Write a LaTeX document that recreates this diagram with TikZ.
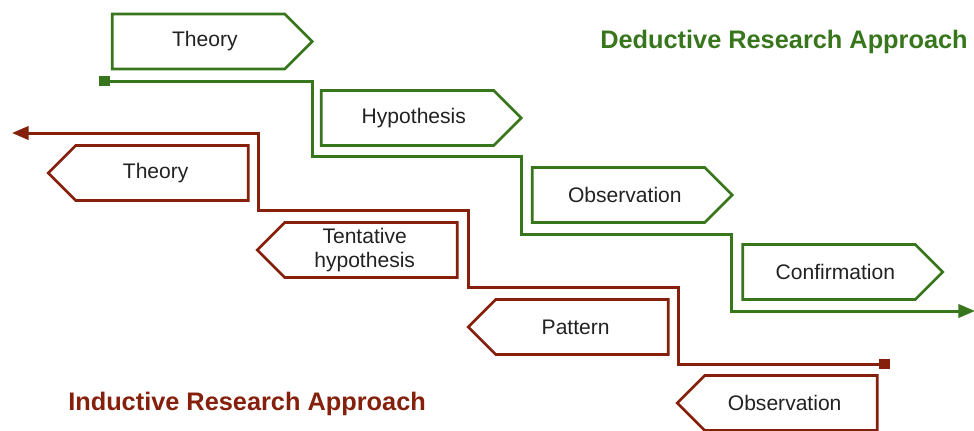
\documentclass[tikz,border=0pt]{standalone}
\usepackage{fontspec}
\setmainfont{Liberation Sans}
\usetikzlibrary{shapes.symbols,arrows.meta}
\definecolor{dedgreen}{HTML}{38761D}
\definecolor{indred}{HTML}{85200C}
\definecolor{boxtext}{HTML}{222222}

\begin{document}
\begin{tikzpicture}[x=0.75pt,y=-0.75pt,
        box/.style = {signal, line width=2pt, fill=white, text=boxtext,
                      minimum width=150pt, minimum height=41.25pt, inner sep=0pt,
                      signal pointer angle=90,
                      font=\fontsize{15.8}{18}\selectfont},
        dedbox/.style = {box, draw=dedgreen, signal to=east,
                         execute at begin node={\hspace*{9.5pt}}},
        indbox/.style = {box, draw=indred, signal to=west,
                         execute at end node={\hspace*{9.5pt}}},
        stair/.style = {line width=2.25pt,
                        arrows={Square[length=8pt,width=8pt]-Triangle[length=12.5pt,width=10pt]}},
        title/.style = {font=\fontsize{19}{22}\selectfont\bfseries, inner sep=0pt}]
    \useasboundingbox (0,0) rectangle (974,430);

    % deductive boxes
    \node[dedbox] (dtheory) at (198.5,41.5) {Theory};
    \node[dedbox] (dhypo)   at (407.5,118)  {Hypothesis};
    \node[dedbox] (dobs)    at (618.5,195)  {Observation};
    \node[dedbox] (dconf)   at (829,272)    {Confirmation};

    % inductive boxes
    \node[indbox] (itheory)  at (162,173) {Theory};
    \node[indbox,align=center,execute at end node={}] (itent) at (371,250) {Tentative\\hypothesis};
    \node[indbox] (ipattern) at (582,327) {Pattern};
    \node[indbox] (iobs)     at (791,403) {Observation};

    \coordinate (dstart) at (99,81);
    \coordinate (dend)   at (975,311);
    \coordinate (istart) at (890,364);
    \coordinate (iend)   at (12,133);

    \draw[stair,dedgreen] (dstart) -| ++(213,75) -| ++(209,78) -| ++(210,77) -- (dend);
    \draw[stair,indred]   (istart) -| ++(-212,-77) -| ++(-210,-77) -| ++(-210,-77) -- (iend);

    \node[title,dedgreen,anchor=east] (dedtitle) at (968,42)  {Deductive Research Approach};
    \node[title,indred,anchor=west]   (indtitle) at (68,404)  {Inductive Research Approach};
\end{tikzpicture}
\end{document}
